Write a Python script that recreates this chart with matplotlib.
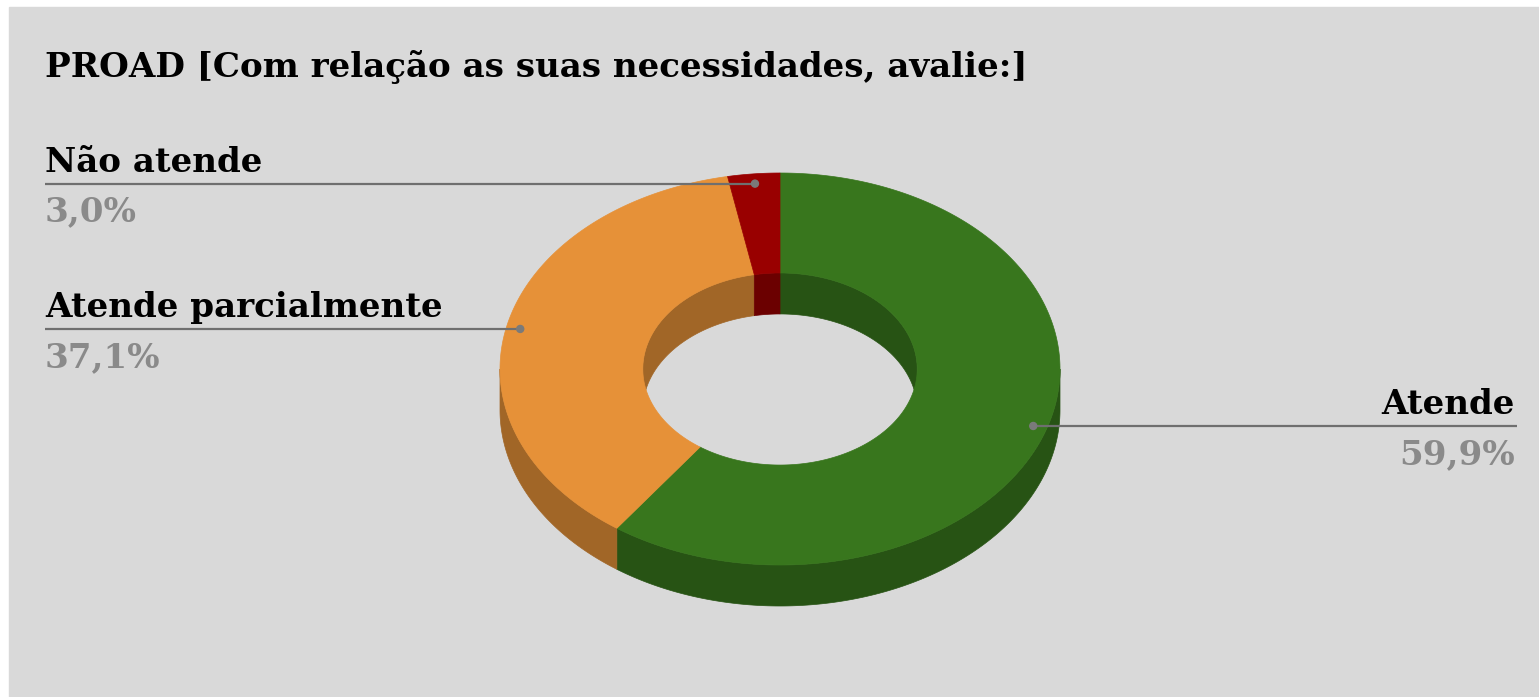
import numpy as np
import matplotlib
matplotlib.use("Agg")
import matplotlib.pyplot as plt
from matplotlib.patches import Polygon, Rectangle, Circle
from matplotlib.colors import to_rgb

# data
title = "PROAD [Com relação as suas necessidades, avalie:]"
labels = ["Atende", "Atende parcialmente", "Não atende"]
values = [59.9, 37.1, 3.0]
pct_labels = ["59,9%", "37,1%", "3,0%"]
colors = ["#38761d", "#e69138", "#990000"]

W, H = 1539, 697
fig = plt.figure(figsize=(W / 100, H / 100), dpi=100, facecolor="white")
ax = fig.add_axes([0, 0, 1, 1])
ax.set_xlim(0, W)
ax.set_ylim(H, 0)
ax.axis("off")
ax.add_patch(Rectangle((9, 7), W, H, color="#d9d9d9", zorder=0))

# 3d donut geometry (pixels)
cx, cy = 780, 369
rx, ry = 280, 196
hole = 0.49
depth = 41


def shade(c, f=0.7):
    return tuple(f * v for v in to_rgb(c))


def pts(t, r, dy=0):
    # t in degrees, clockwise from 12 o'clock
    t = np.radians(t)
    return np.column_stack([cx + r * rx * np.sin(t), cy - r * ry * np.cos(t) + dy])


def arc(a, b):
    return np.linspace(a, b, max(int(abs(b - a) * 2), 4))


fr = np.array(values) / sum(values)
ends = np.cumsum(fr) * 360
starts = ends - fr * 360

for s, e, c in zip(starts, ends, colors):
    dark = shade(c)
    # outer side wall (front half)
    a, b = max(s, 90), min(e, 270)
    if a < b:
        t = arc(a, b)
        poly = np.vstack([pts(t, 1), pts(t[::-1], 1, depth)])
        ax.add_patch(Polygon(poly, closed=True, fc=dark, ec=dark, lw=0.5, zorder=1))
    # inner wall (back half of hole)
    for lo, hi in [(0, 90), (270, 360)]:
        a, b = max(s, lo), min(e, hi)
        if a < b:
            t = arc(a, b)
            poly = np.vstack([pts(t, hole), pts(t[::-1], hole, depth)])
            ax.add_patch(Polygon(poly, closed=True, fc=dark, ec=dark, lw=0.5, zorder=1))

for s, e, c in zip(starts, ends, colors):
    t = arc(s, e)
    poly = np.vstack([pts(t, 1), pts(t[::-1], hole)])
    ax.add_patch(Polygon(poly, closed=True, fc=c, ec=c, lw=0.5, zorder=2))

# text sizing: fit title width to the reference
font = dict(family="DejaVu Serif", weight="bold")
ttl = ax.text(45, 77, title, fontsize=20, color="#000000", ha="left", va="baseline", zorder=5, **font)
r = fig.canvas.get_renderer()
fs = 20 * 985 / ttl.get_window_extent(r).width
ttl.set_fontsize(fs)

# callouts
line_col = "#6f6f6f"
for lab, pct, s, e in zip(labels, pct_labels, starts, ends):
    mid = (s + e) / 2
    dx, dy = pts(np.array([mid]), 0.95)[0]
    if mid < 180:
        x0, x1, ha = dx, 1517, "right"
        tx = 1515
    else:
        x0, x1, ha = 45, dx, "left"
        tx = 45
    ax.plot([x0, x1], [dy, dy], color=line_col, lw=1.6, zorder=4, solid_capstyle="butt")
    ax.add_patch(Circle((dx, dy), 3.5, color="#7a7a7a", zorder=5))
    ax.text(tx, dy - 12, lab, fontsize=fs, color="#000000", ha=ha, va="baseline", zorder=5, **font)
    ax.text(tx, dy + 38, pct, fontsize=fs, color="#8a8a8a", ha=ha, va="baseline", zorder=5, **font)

fig.savefig("out.png", dpi=100, facecolor=fig.get_facecolor())
